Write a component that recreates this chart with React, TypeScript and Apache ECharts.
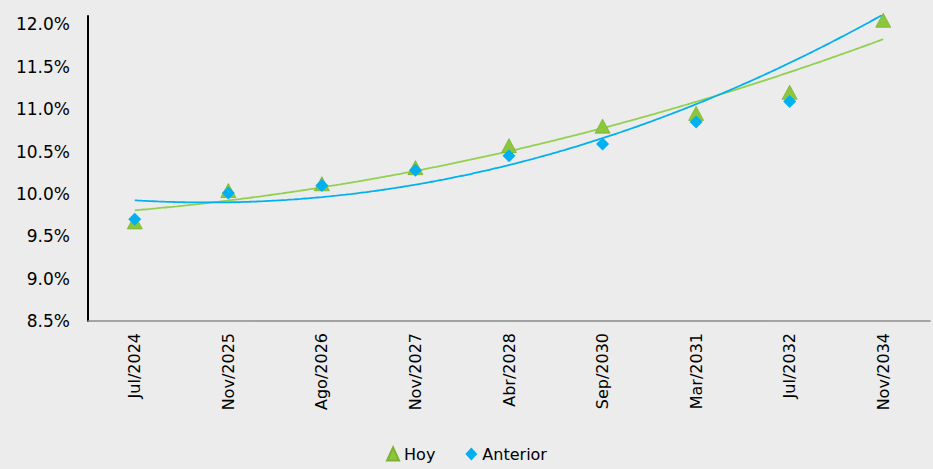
import React, { useEffect, useRef } from "react";
import * as echarts from "echarts";

const categories = ["Jul/2024", "Nov/2025", "Ago/2026", "Nov/2027", "Abr/2028", "Sep/2030", "Mar/2031", "Jul/2032", "Nov/2034"];
const hoy = [9.67, 10.04, 10.12, 10.31, 10.57, 10.80, 10.95, 11.20, 12.05];
const anterior = [9.70, 10.01, 10.10, 10.28, 10.45, 10.59, 10.85, 11.09, 12.55];
const yTicks = { min: 8.5, max: 12.1, interval: 0.5 };

function polyfit2(ys: number[]): [number, number, number] {
  // least squares y = a + b x + c x^2, x = index
  const n = ys.length;
  let s0 = 0, s1 = 0, s2 = 0, s3 = 0, s4 = 0, t0 = 0, t1 = 0, t2 = 0;
  for (let i = 0; i < n; i++) {
    const x = i, y = ys[i];
    s0 += 1; s1 += x; s2 += x * x; s3 += x * x * x; s4 += x * x * x * x;
    t0 += y; t1 += x * y; t2 += x * x * y;
  }
  const M = [
    [s0, s1, s2, t0],
    [s1, s2, s3, t1],
    [s2, s3, s4, t2],
  ];
  for (let c = 0; c < 3; c++) {
    let p = c;
    for (let r = c + 1; r < 3; r++) if (Math.abs(M[r][c]) > Math.abs(M[p][c])) p = r;
    [M[c], M[p]] = [M[p], M[c]];
    for (let r = 0; r < 3; r++) {
      if (r === c) continue;
      const f = M[r][c] / M[c][c];
      for (let k = c; k < 4; k++) M[r][k] -= f * M[c][k];
    }
  }
  return [M[0][3] / M[0][0], M[1][3] / M[1][1], M[2][3] / M[2][2]];
}

function trend(ys: number[]): number[][] {
  const [a, b, c] = polyfit2(ys);
  const pts: number[][] = [];
  const last = ys.length - 1;
  for (let i = 0; i <= last * 40; i++) {
    const x = i / 40;
    pts.push([x, a + b * x + c * x * x]);
  }
  return pts;
}

const FONT = "DejaVu Sans";
const GREEN = "#8cc63e";
const GREEN_LINE = "#92d050";
const BLUE = "#00b0f0";

export default function App() {
  const ref = useRef<HTMLDivElement>(null);
  useEffect(() => {
    if (!ref.current) return;
    const chart = echarts.init(ref.current, undefined, { renderer: "svg" });
    chart.setOption({
      animation: false,
      backgroundColor: "#ececec",
      grid: { left: 88, right: 3, top: 16, bottom: 148, containLabel: false },
      legend: {
        data: ["Hoy", "Anterior"],
        left: "center",
        top: 441,
        itemWidth: 12,
        itemHeight: 13,
        itemGap: 30,
        textStyle: { fontFamily: FONT, fontSize: 16, color: "#000" },
      },
      xAxis: [
        {
          type: "category",
          data: categories,
          boundaryGap: true,
          axisLine: { onZero: false, lineStyle: { color: "#8a8a8a", width: 1.5 } },
          axisTick: { show: false },
          splitLine: { show: false },
          axisLabel: { rotate: 90, margin: 12, fontFamily: FONT, fontSize: 16, color: "#000", interval: 0 },
        },
        {
          type: "value",
          min: -0.5,
          max: categories.length - 0.5,
          show: false,
          axisLine: { onZero: false },
          splitLine: { show: false },
        },
      ],
      yAxis: {
        type: "value",
        min: yTicks.min,
        max: yTicks.max,
        interval: yTicks.interval,
        splitLine: { show: false },
        axisTick: { show: false },
        axisLine: { show: true, onZero: false, lineStyle: { color: "#000", width: 2 } },
        axisLabel: {
          showMaxLabel: false,
          margin: 18,
          fontFamily: FONT,
          fontSize: 17,
          color: "#000",
          formatter: (v: number) => v.toFixed(1) + "%",
        },
      },
      series: [
        {
          name: "Tendencia Hoy",
          type: "line",
          xAxisIndex: 1,
          data: trend(hoy),
          showSymbol: false,
          symbol: "none",
          lineStyle: { color: GREEN_LINE, width: 1.8 },
          clip: true,
          z: 1,
          silent: true,
        },
        {
          name: "Tendencia Anterior",
          type: "line",
          xAxisIndex: 1,
          data: trend(anterior),
          showSymbol: false,
          symbol: "none",
          lineStyle: { color: BLUE, width: 1.8 },
          clip: true,
          z: 1,
          silent: true,
        },
        {
          name: "Hoy",
          type: "scatter",
          xAxisIndex: 0,
          data: hoy,
          symbol: "triangle",
          symbolSize: [15, 14],
          itemStyle: { color: GREEN, borderColor: "#7bb32e", borderWidth: 0.8, opacity: 1 },
          clip: true,
          z: 2,
        },
        {
          name: "Anterior",
          type: "scatter",
          xAxisIndex: 0,
          data: anterior,
          symbol: "diamond",
          symbolSize: [13, 13],
          itemStyle: { color: BLUE, opacity: 1 },
          clip: true,
          z: 3,
        },
      ],
    });
    return () => chart.dispose();
  }, []);
  return <div ref={ref} style={{ position: "fixed", left: 0, top: 0, width: 933, height: 469 }} />;
}
